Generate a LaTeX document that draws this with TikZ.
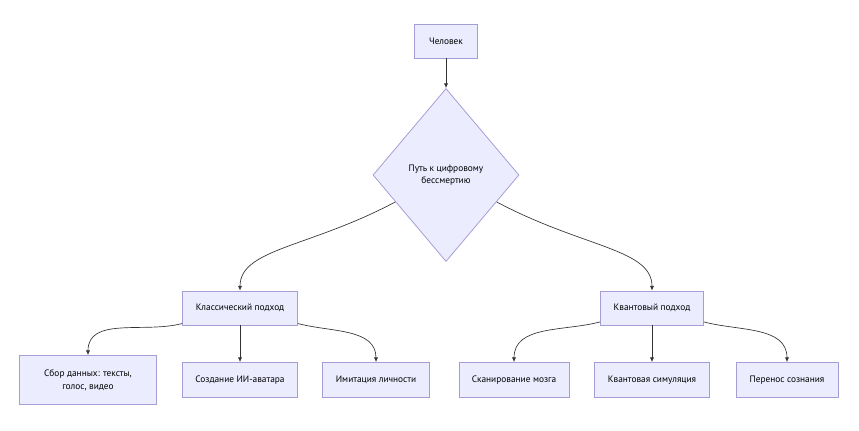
\documentclass[tikz,border=0pt]{standalone}
\usepackage{fontspec}
\setmainfont{PT Sans}
\usetikzlibrary{shapes.geometric, arrows.meta}
\definecolor{riempi}{HTML}{ECECFF}
\definecolor{bordo}{HTML}{A79DD6}
\definecolor{linea}{HTML}{333333}
\tikzset{
  blocco/.style = {draw = bordo, fill = riempi, line width = 0.6pt, align = center,
    font = \fontsize{7}{9.5}\selectfont, minimum height = 26.25pt, inner sep = 2pt},
  rombo/.style = {blocco, diamond, minimum width = 109.5pt, minimum height = 129.75pt},
  freccia/.style = {draw = linea, line width = 0.5pt, -{Latex[length = 3.5pt, width = 3pt]}}
}

\begin{document}
\begin{tikzpicture}[x = 0.75pt, y = -0.75pt]
    \useasboundingbox (0,0) rectangle (859,430);
    % Parametri
    \pgfmathsetmacro{\ysopra}{308}
    \pgfmathsetmacro{\ysotto}{380}
    % Nodi
    \node[blocco, minimum width = 47.25pt, minimum height = 25.5pt] (uomo) at (446,41) {Человек};
    \node[rombo] (via) at (446,175) {Путь к цифровому\\бессмертию};
    \node[blocco, minimum width = 86.25pt, minimum height = 25.5pt] (classico) at (240,\ysopra) {Классический подход};
    \node[blocco, minimum width = 77.25pt, minimum height = 25.5pt] (quantico) at (652,\ysopra) {Квантовый подход};
    \node[blocco, minimum width = 102.75pt, minimum height = 36.75pt] (dati) at (88,\ysotto) {Сбор данных: тексты,\\голос, видео};
    \node[blocco, minimum width = 86.25pt] (avatar) at (240,\ysotto) {Создание ИИ-аватара};
    \node[blocco, minimum width = 80.25pt] (imita) at (376,\ysotto) {Имитация личности};
    \node[blocco, minimum width = 82.5pt] (scansione) at (514,\ysotto) {Сканирование мозга};
    \node[blocco, minimum width = 86.25pt] (simula) at (652,\ysotto) {Квантовая симуляция};
    \node[blocco, minimum width = 76.5pt] (trasferi) at (787,\ysotto) {Перенос сознания};
    % Frecce
    \draw[freccia] (uomo) -- (via);
    \draw[freccia] (via) to[out = -152, in = 90, out looseness = 1.4, in looseness = 0.6] (classico);
    \draw[freccia] (via) to[out = -28, in = 90, out looseness = 1.4, in looseness = 0.6] (quantico);
    \draw[freccia] (classico) to[out = -165, in = 90] (dati);
    \draw[freccia] (classico) -- (avatar);
    \draw[freccia] (classico) to[out = -15, in = 90] (imita);
    \draw[freccia] (quantico) to[out = -165, in = 90] (scansione);
    \draw[freccia] (quantico) -- (simula);
    \draw[freccia] (quantico) to[out = -15, in = 90] (trasferi);
\end{tikzpicture}
\end{document}
